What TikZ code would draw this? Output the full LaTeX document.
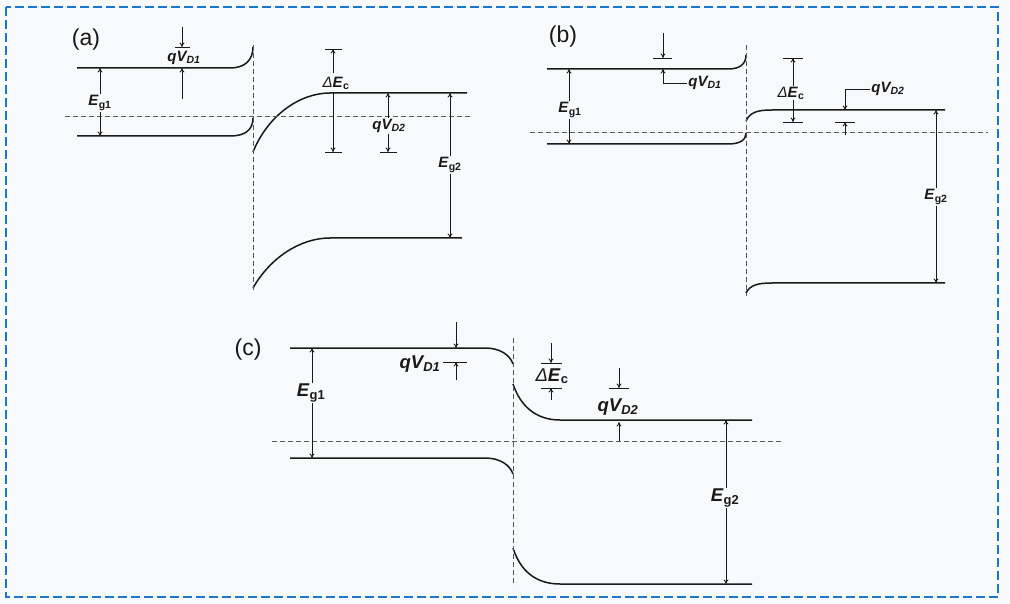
\documentclass[tikz,border=0pt]{standalone}
\usepackage{fontspec}
\setmainfont{Liberation Sans}
\usepackage{tikz}
\usetikzlibrary{calc,arrows.meta}

\definecolor{framecol}{RGB}{28,118,208}
\definecolor{bgcol}{RGB}{248,249,251}
\definecolor{inkcol}{RGB}{25,25,25}
\definecolor{dashcol}{RGB}{90,90,90}

\newcommand{\Eg}[1]{\textbf{\textit{E}\textsubscript{g#1}}}
\newcommand{\qV}[1]{\textbf{\textit{qV\textsubscript{D#1}}}}
\newcommand{\dEc}{\textit{Δ}\textbf{\textit{E}\textsubscript{c}}}

\tikzset{
  band/.style={draw=inkcol, line width=1.5pt},
  fermi/.style={draw=dashcol, line width=0.7pt, dash pattern=on 5pt off 3pt},
  dim/.style={draw=inkcol, line width=0.9pt, -{To[length=4.5pt,width=5pt]}},
  bar/.style={draw=inkcol, line width=0.9pt},
  lbl/.style={text=inkcol, inner sep=1pt, font=\fontsize{15}{17}\selectfont},
  lblc/.style={lbl, font=\fontsize{18.5}{20}\selectfont},
  tag/.style={text=inkcol, inner sep=0pt, font=\fontsize{23}{25}\selectfont}
}

\begin{document}
\begin{tikzpicture}[x=1pt, y=-1pt]
    % 背景与虚线边框
    \fill[bgcol] (0,0) rectangle (1010,604);
    \useasboundingbox (0,0) rectangle (1010,604);
    \draw[framecol, line width=2.2pt, dash pattern=on 9pt off 4pt]
      (6,7) rectangle (998,597);

    % (a) 版本
    \begin{scope}
      \node[tag] (taga) at (86,40) {(a)};
      % 能带
      \draw[band] (77,68) -- (230,68) .. controls (245,68) and (253,60)
      .. (253,47);
      \draw[band] (77,136) -- (230,136) .. controls (245,136) and
      (253,130) .. (253,118);
      \draw[band] (253,152) .. controls (268,115) and (300,93) ..
      (330,93) -- (467,93);
      \draw[band] (253,288) .. controls (270,258) and (300,238) ..
      (330,238) -- (462,238);
      \draw[fermi] (65,116) -- (470,116);
      \draw[fermi] (253,45) -- (253,290);

      % E_g1
      \node[lbl] (ega) at (100,103) {\Eg{1}};
      \draw[dim] (ega.north) -- (100,68);
      \draw[dim] (ega.south) -- (100,136);

      % qV_D1
      \node[lbl] (qva1) at (184,58) {\qV{1}};
      \draw[bar] (175,47) -- (190,47);
      \draw[dim] (182,27) -- (182,47);
      \draw[dim] (182,99) -- (182,68);

      % ΔE_c
      \node[lbl] (dea) at (336,83) {\dEc};
      \draw[bar] (325,49) -- (342,49);
      \draw[bar] (325,152) -- (342,152);
      \draw[dim] (333,73) -- (333,49);
      \draw[dim] (333,93) -- (333,152);

      % qV_D2
      \node[lbl] (qva2) at (389,126) {\qV{2}};
      \draw[bar] (380,152) -- (397,152);
      \draw[dim] (qva2.north -| 388,0) -- (388,93);
      \draw[dim] (qva2.south -| 388,0) -- (388,152);

      % E_g2
      \node[lbl] (ega2) at (450,165) {\Eg{2}};
      \draw[dim] (ega2.north) -- (450,93);
      \draw[dim] (ega2.south) -- (450,238);
    \end{scope}

    % (b) 版本
    \begin{scope}
      \node[tag] (tagb) at (563,37) {(b)};
      % 能带
      \draw[band] (547,69) -- (728,69) .. controls (740,69) and (746,64)
      .. (746,55);
      \draw[band] (547,144) -- (728,144) .. controls (740,144) and
      (746,140) .. (746,133);
      \draw[band] (746,121) .. controls (750,112) and (758,110) ..
      (772,110) -- (945,110);
      \draw[band] (746,293) .. controls (750,285) and (758,283) ..
      (772,283) -- (945,283);
      \draw[fermi] (530,132) -- (988,132);
      \draw[fermi] (746,45) -- (746,296);

      % E_g1
      \node[lbl] (egb) at (570,110) {\Eg{1}};
      \draw[dim] (egb.north -| 569,0) -- (569,69);
      \draw[dim] (egb.south -| 569,0) -- (569,144);

      % qV_D1（折线引出）
      \node[lbl] (qvb1) at (705,83) {\qV{1}};
      \draw[bar] (653,58) -- (672,58);
      \draw[dim] (663,33) -- (663,58);
      \draw[dim] (qvb1.west) -| (663,69);

      % ΔE_c
      \node[lbl] (deb) at (791,93) {\dEc};
      \draw[bar] (783,58) -- (803,58);
      \draw[bar] (783,122) -- (803,122);
      \draw[dim] (deb.north -| 793,0) -- (793,58);
      \draw[dim] (deb.south -| 793,0) -- (793,122);

      % qV_D2（折线引出）
      \node[lbl] (qvb2) at (888,89) {\qV{2}};
      \draw[dim] (qvb2.west) -| (845,110);
      \draw[bar] (835,122) -- (855,122);
      \draw[dim] (845,135) -- (845,122);

      % E_g2
      \node[lbl] (egb2) at (936,197) {\Eg{2}};
      \draw[dim] (egb2.north) -- (936,110);
      \draw[dim] (egb2.south) -- (936,283);
    \end{scope}

    % (c) 版本
    \begin{scope}
      \node[tag] (tagc) at (248,350) {(c)};
      % 能带
      \draw[band] (290,348) -- (485,348) .. controls (500,348) and
      (510,355) .. (513,364);
      \draw[band] (290,458) -- (485,458) .. controls (500,458) and
      (510,465) .. (513,474);
      \draw[band] (513,384) .. controls (520,405) and (535,420) ..
      (560,420) -- (752,420);
      \draw[band] (513,548) .. controls (520,570) and (535,584) ..
      (560,584) -- (752,584);
      \draw[fermi] (272,441) -- (783,441);
      \draw[fermi] (513,338) -- (513,586);

      % E_g1
      \node[lblc] (egc) at (311,393) {\Eg{1}};
      \draw[dim] (egc.north -| 312,0) -- (312,348);
      \draw[dim] (egc.south -| 312,0) -- (312,458);

      % qV_D1
      \node[lblc] (qvc1) at (420,364) {\qV{1}};
      \draw[dim] (456,322) -- (456,348);
      \draw[bar] (443,362) -- (467,362);
      \draw[dim] (456,380) -- (456,362);

      % ΔE_c
      \node[lblc] (dec) at (552,376) {\dEc};
      \draw[dim] (551,343) -- (551,363);
      \draw[bar] (541,363) -- (562,363);
      \draw[bar] (541,388) -- (562,388);
      \draw[dim] (551,400) -- (551,388);

      % qV_D2
      \node[lblc] (qvc2) at (618,407) {\qV{2}};
      \draw[dim] (619,368) -- (619,388);
      \draw[bar] (609,388) -- (629,388);
      \draw[dim] (619,441) -- (619,422);

      % E_g2
      \node[lblc] (egc2) at (725,498) {\Eg{2}};
      \draw[dim] (egc2.north -| 726,0) -- (726,420);
      \draw[dim] (egc2.south -| 726,0) -- (726,584);
    \end{scope}
  \end{tikzpicture}
\end{document}
